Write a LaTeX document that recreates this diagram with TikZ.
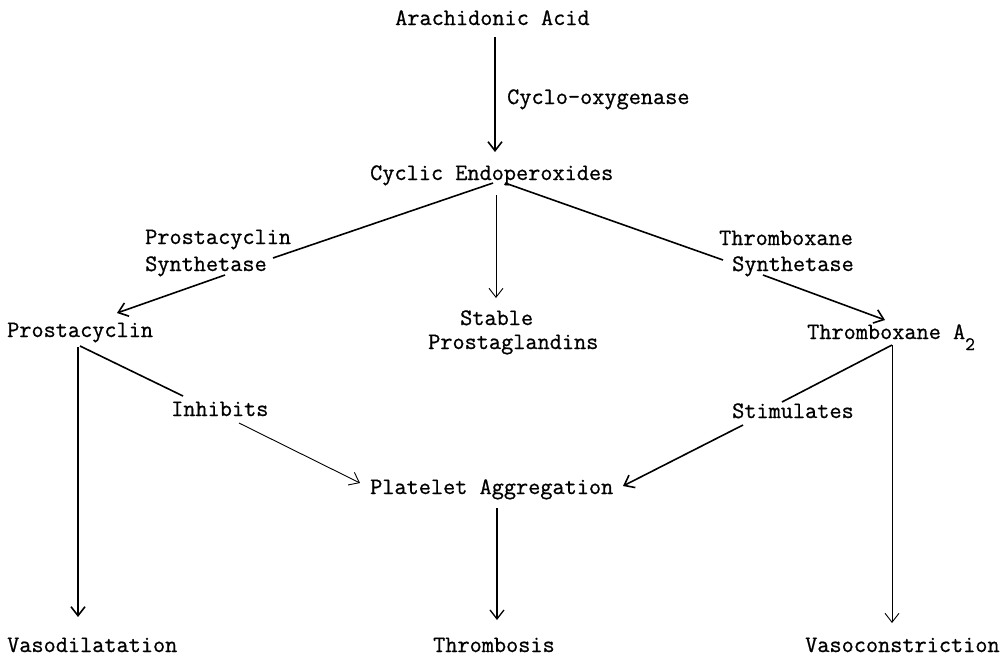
\documentclass[tikz,border=0pt]{standalone}
\usepackage{fontspec}
\newfontfamily\typew{Latin Modern Mono}[FakeBold=0.8]
\usetikzlibrary{arrows.meta}
\begin{document}
\begin{tikzpicture}[x=1pt,y=-1pt,
  lbl/.style={inner sep=0pt,anchor=base west,font=\typew\fontsize{23.6}{27}\selectfont},
  thick line/.style={line width=1.6pt},
  thin line/.style={line width=0.9pt},
  arr/.style={-{Straight Barb[length=9pt,width=14pt]}}]
\useasboundingbox (0,0) rectangle (1006,657);
% texts
\node[lbl] (aa) at (395,25) {Arachidonic Acid};
\node[lbl] (cox) at (507,104) {Cyclo-oxygenase};
\node[lbl] (ce) at (370,180) {Cyclic Endoperoxides};
\node[lbl] (ps1) at (145,244) {Prostacyclin};
\node[lbl] (ps2) at (145,271) {Synthetase};
\node[lbl] (ts1) at (719,245) {Thromboxane};
\node[lbl] (ts2) at (732,271) {Synthetase};
\node[lbl] (st1) at (460,325) {Stable};
\node[lbl] (st2) at (428,349) {Prostaglandins};
\node[lbl] (pc) at (7,337) {Prostacyclin};
\node[lbl] (tx) at (807,339) {Thromboxane A\raisebox{-11pt}{\fontsize{19}{20}\selectfont 2}};
\node[lbl] (inh) at (171,416) {Inhibits};
\node[lbl] (stim) at (732,418) {Stimulates};
\node[lbl] (pa) at (370,494) {Platelet Aggregation};
\node[lbl] (vd) at (7,652) {Vasodilatation};
\node[lbl] (th) at (433,652) {Thrombosis};
\node[lbl] (vc) at (805,652) {Vasoconstriction};
% connector end points
\coordinate (aaS) at (495,37);
\coordinate (ceN) at (495,152);
\coordinate (ceSL) at (493,183);
\coordinate (ceSM) at (496,195);
\coordinate (ceSR) at (505,183);
\coordinate (psA) at (273,258);
\coordinate (psB) at (225,275);
\coordinate (pcN) at (117,313);
\coordinate (tsA) at (723,260);
\coordinate (tsB) at (763,275);
\coordinate (txN) at (885,320);
\coordinate (stN) at (496,298);
\coordinate (pcS) at (78,347);
\coordinate (pcS2) at (80,346);
\coordinate (vdN) at (78,617);
\coordinate (inhA) at (183,396);
\coordinate (inhB) at (239,423);
\coordinate (paW) at (360,483);
\coordinate (txS) at (892,345);
\coordinate (vcN) at (892,623);
\coordinate (stimA) at (782,402);
\coordinate (stimB) at (743,425);
\coordinate (paE) at (623,486);
\coordinate (paS) at (497,508);
\coordinate (thN) at (497,620);
% connectors
\draw[thick line,arr] (aaS) -- (ceN);
\draw[thick line] (ceSL) -- (psA);
\draw[thick line,arr] (psB) -- (pcN);
\draw[thin line,arr] (ceSM) -- (stN);
\draw[thick line] (ceSR) -- (tsA);
\draw[thick line,arr] (tsB) -- (txN);
\draw[thick line,arr] (pcS) -- (vdN);
\draw[thick line] (pcS2) -- (inhA);
\draw[thin line,arr] (inhB) -- (paW);
\draw[thin line,arr] (txS) -- (vcN);
\draw[thick line] (txS) -- (stimA);
\draw[thick line,arr] (stimB) -- (paE);
\draw[line width=1.3pt,arr] (paS) -- (thN);
\end{tikzpicture}
\end{document}
